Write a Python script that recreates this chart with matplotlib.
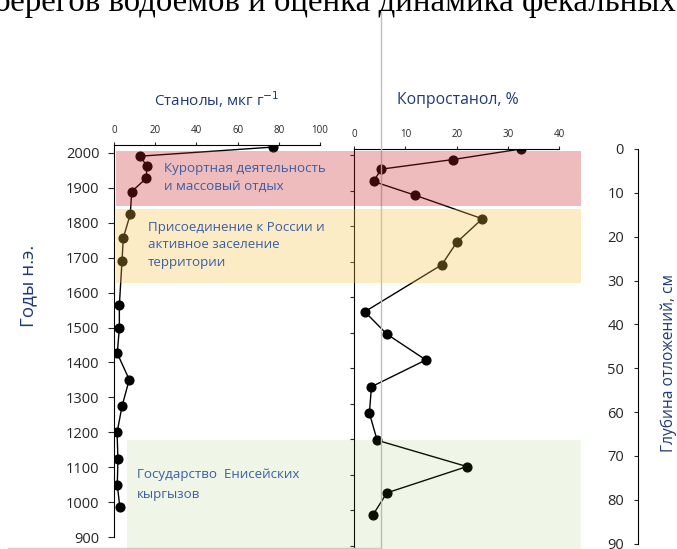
import numpy as np
import matplotlib
matplotlib.use("Agg")
import matplotlib.pyplot as plt
from matplotlib.lines import Line2D

plt.rcParams['font.family'] = ['Open Sans', 'DejaVu Sans']

# Stanols (left panel), by year AD
years_st = [2016, 1990, 1963, 1927, 1889, 1824, 1756, 1691, 1564, 1499,
            1426, 1351, 1275, 1200, 1124, 1050, 988]
stanols = [77, 12.6, 15.9, 15.7, 8.6, 7.9, 4.5, 3.9, 2.6, 2.6,
           1.6, 7.4, 3.9, 1.5, 1.9, 1.6, 2.8]

# Coprostanol (right panel), by sediment depth, cm
depth_cp = [0, 2.4, 4.6, 7.4, 10.5, 15.9, 21.3, 26.4, 37.1, 42.2,
            48.1, 54.2, 60.2, 66.4, 72.4, 78.4, 83.4]
coprostanol = [32.5, 19.3, 5.3, 3.8, 11.8, 25.0, 20.0, 17.1, 2.1, 6.4,
               14.0, 3.4, 3.0, 4.5, 22.0, 6.4, 3.7]

year_ticks = list(range(900, 2001, 100))
stanol_ticks = [0, 20, 40, 60, 80, 100]
copro_ticks = [0, 10, 20, 30, 40]
depth_ticks = list(range(0, 91, 10))

# Historical periods (years AD): label, start, end, colour, alpha
periods = [
    ("Курортная деятельность\nи массовый отдых", 1847, 2006, (0.79, 0.13, 0.15), 0.30),
    ("Присоединение к России и\nактивное заселение\nтерритории", 1628, 1838, (0.97, 0.76, 0.27), 0.30),
    ("Государство  Енисейских\nкыргызов", 866, 1178, (0.41, 0.69, 0.10), 0.10),
]

W, H = 677, 549
fig = plt.figure(figsize=(W / 100, H / 100), dpi=100)


def box(x0, y0, x1, y1):
    return [x0 / W, 1 - y1 / H, (x1 - x0) / W, (y1 - y0) / H]


tick_col = '#262626'
lab_col = '#1f3a78'
txt_col = '#3b5ea6'

# left panel: stanols vs years
ax1 = fig.add_axes(box(114, 145, 320, 537.3))
ax1.plot(stanols, years_st, color='black', lw=1.0, marker='o', ms=6.3, zorder=3)
ax1.set_xlim(0, 100)
ax1.set_ylim(900, 2022)
ax1.set_xticks(stanol_ticks)
ax1.set_yticks(year_ticks)
ax1.xaxis.tick_top()
ax1.spines[['right', 'bottom']].set_visible(False)
ax1.tick_params(axis='x', length=2.5, pad=4, labelsize=7, colors=tick_col)
ax1.tick_params(axis='y', length=4.5, pad=6, labelsize=10.5, colors=tick_col)
ax1.patch.set_alpha(0)

# right panel: coprostanol vs depth
ax2 = fig.add_axes(box(354, 149, 559.3, 547))
ax2.plot(coprostanol, depth_cp, color='black', lw=1.0, marker='o', ms=6.3, zorder=3)
ax2.set_xlim(0, 40)
ax2.set_ylim(90.74, 0)
ax2.set_xticks(copro_ticks)
ax2.set_yticks(np.arange(12) * 8.1 + 1.37)
ax2.set_yticklabels([])
ax2.xaxis.tick_top()
ax2.spines[['right', 'bottom']].set_visible(False)
ax2.tick_params(axis='x', length=2.5, pad=4, labelsize=7, colors=tick_col)
ax2.tick_params(axis='y', length=3, colors=tick_col)
ax2.patch.set_alpha(0)

# depth axis
ax3 = fig.add_axes(box(638, 149, 660, 543.7))
ax3.set_ylim(90, 0)
ax3.set_yticks(depth_ticks)
ax3.set_xticks([])
ax3.spines[['right', 'bottom', 'top']].set_visible(False)
ax3.tick_params(axis='y', length=3, pad=7, labelsize=10.5, colors=tick_col)
ax3.patch.set_alpha(0)

# grey guide line and page edge
fig.add_artist(Line2D([381 / W, 381 / W], [0, 1 - 12 / H], color='#c0c0c0', lw=1.0, zorder=1))
fig.add_artist(Line2D([8 / W, 381 / W], [1 - 548 / H, 1 - 548 / H], color='#d0d0d0', lw=1.0, zorder=1))

# overlay with period bands (semi-transparent, on top of lines)
ov = fig.add_axes(box(0, 145, W, 537.3), zorder=5)
ov.set_xlim(0, W)
ov.set_ylim(900, 2022)
ov.axis('off')
text_pos = [(164, 1929, 1.48), (148, 1736, 1.48), (137, 1050, 1.72)]
for (name, y0, y1, col, a), (tx, ty, ls) in zip(periods, text_pos):
    x0 = 116 if y0 > 1500 else 126.7
    ov.axhspan(y0, y1, xmin=x0 / W, xmax=581 / W, color=col, alpha=a, lw=0, clip_on=False)
    ov.text(tx, ty, name, color=txt_col, fontsize=9.6, va='center', ha='left',
            linespacing=ls)

# axis titles
fig.text(217 / W, 1 - 100 / H, 'Станолы, мкг г$^{-1}$', color=lab_col, fontsize=11,
         ha='center', va='center')
fig.text(458 / W, 1 - 100 / H, 'Копростанол, %', color=lab_col, fontsize=11.3,
         ha='center', va='center')
fig.text(28 / W, 1 - 286 / H, 'Годы н.э.', color=lab_col, fontsize=13.5,
         ha='center', va='center', rotation=90)
fig.text(669 / W, 1 - 363 / H, 'Глубина отложений, см', color=lab_col, fontsize=11.2,
         ha='center', va='center', rotation=90)

# cropped page text at the top
fig.text(-6 / W, 1 - 11 / H, 'берегов водоемов и оценка динамика фекальных',
         family='Liberation Serif', fontsize=23.7, color='black', ha='left', va='baseline')

fig.savefig('out.png', dpi=100)
